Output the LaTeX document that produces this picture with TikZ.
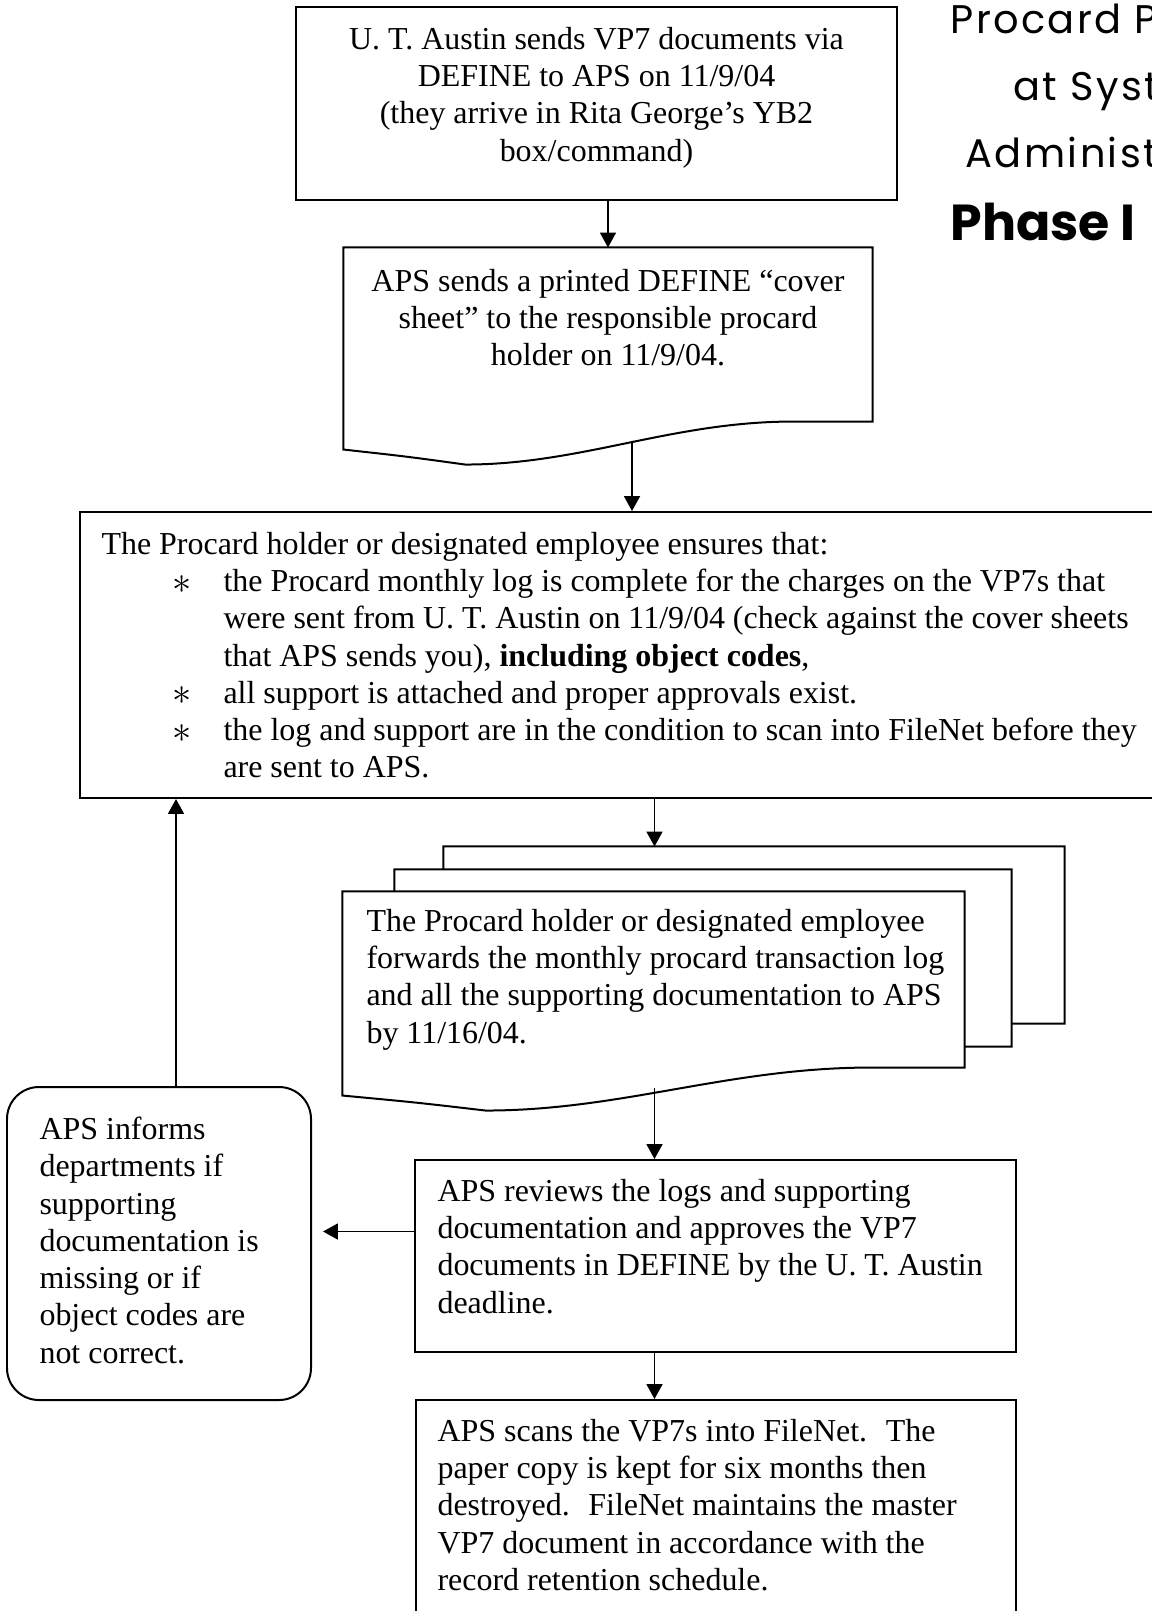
\documentclass[tikz,border=0pt]{standalone}
\usepackage{fontspec}
\setmainfont{Liberation Serif}
\newfontfamily\titlefont[LetterSpace=6]{Poppins}
\newfontfamily\phasefont{Poppins}
\usetikzlibrary{arrows.meta,calc,fit}

% outline of a document shape: flat top, wavy bottom
\newcommand{\docpath}[1]{(#1.south east) -- (#1.north east) -- (#1.north west)
    -- ($(#1.south west)+(0,28)$)
    .. controls ($(#1.south west)!0.12!(#1.south east)+(0,35)$) .. ($(#1.south west)!0.23!(#1.south east)+(0,43)$)
    .. controls ($(#1.south west)!0.45!(#1.south east)+(0,43)$) and ($(#1.south west)!0.62!(#1.south east)$) .. ($(#1.south west)!0.85!(#1.south east)$)
    -- cycle}
% bullet and hanging indent of the check list
\newcommand{\checkitem}{\hspace*{26.5pt}\makebox[19.3pt][l]{\raisebox{-0.6pt}{\Large$\ast$}}}
\newcommand{\checkcont}{\hspace*{45.8pt}}

\tikzset{
    procbox/.style={draw, line width=0.75pt, inner sep=0pt},
    docbox/.style={inner sep=0pt},
    roundbox/.style={draw, line width=0.75pt, rounded corners=12pt, inner sep=0pt},
    docline/.style={line width=0.75pt, fill=white},
    bodytext/.style={font=\fontsize{12pt}{14pt}\selectfont, inner sep=0pt},
    titletext/.style={font=\titlefont\fontsize{15pt}{18pt}\selectfont, inner sep=0pt, anchor=base west},
    flowarrow/.style={-{Triangle[length=5.6pt,width=6pt]}, line width=0.65pt}
}

\begin{document}
\begin{tikzpicture}[x=0.3755pt, y=-0.3755pt]
    \useasboundingbox (0,0) rectangle (1152,1611);
    \clip (0,0) rectangle (1152,1611);

    % title
    \node[titletext] (title1) at (950,33) {Procard Process};
    \node[titletext] (title2) at (1013,100) {at System};
    \node[titletext] (title3) at (965,167) {Administration};
    \node[titletext, font=\phasefont\bfseries\fontsize{19pt}{22pt}\selectfont] (title4) at (950,240) {Phase I};

    % boxes
    \node[procbox, fit={(296,7) (897,200)}] (austin) {};
    \node[docbox, fit={(344,248) (872,421)}] (cover) {};
    \draw[docline] \docpath{cover};
    \node[procbox, fit={(80,512) (1170,798)}] (checks) {};
    \node[docbox, fit={(444,847) (1064,1023)}] (stackback) {};
    \node[docbox, fit={(395,870) (1011,1046)}] (stackmid) {};
    \node[docbox, fit={(343,892) (964,1067)}] (stackfront) {};
    \draw[docline] \docpath{stackback};
    \draw[docline] \docpath{stackmid};
    \draw[docline] \docpath{stackfront};
    \node[procbox, fit={(415,1160) (1016,1352)}] (review) {};
    \node[procbox, fit={(416,1400) (1016,1700)}] (scan) {};
    \node[roundbox, fit={(7,1087) (311,1400)}] (informs) {};

    % texts
    \node[bodytext, align=center, anchor=north] (austintext) at (596.5,26.5) {U. T. Austin sends VP7 documents via\\
        DEFINE to APS on 11/9/04\\
        (they arrive in Rita George’s YB2\\
        box/command)};
    \node[bodytext, align=center, anchor=north] (covertext) at (608,268.5) {APS sends a printed DEFINE “cover\\
        sheet” to the responsible procard\\
        holder on 11/9/04.};
    \node[bodytext, align=left, anchor=north west] (checkstext) at (101,531.5) {The Procard holder or designated employee ensures that:\\
        \checkitem the Procard monthly log is complete for the charges on the VP7s that\\
        \checkcont were sent from U. T. Austin on 11/9/04 (check against the cover sheets\\
        \checkcont that APS sends you), \textbf{including object codes},\\
        \checkitem all support is attached and proper approvals exist.\\
        \checkitem the log and support are in the condition to scan into FileNet before they\\
        \checkcont are sent to APS.};
    \node[bodytext, align=left, anchor=north west] (stacktext) at (366,908.5) {The Procard holder or designated employee\\
        forwards the monthly procard transaction log\\
        and all the supporting documentation to APS\\
        by 11/16/04.};
    \node[bodytext, align=left, anchor=north west] (reviewtext) at (437,1178.5) {APS reviews the logs and supporting\\
        documentation and approves the VP7\\
        documents in DEFINE by the U. T. Austin\\
        deadline.};
    \node[bodytext, align=left, anchor=north west] (scantext) at (437,1418.5) {APS scans the VP7s into FileNet.~ The\\
        paper copy is kept for six months then\\
        destroyed.~ FileNet maintains the master\\
        VP7 document in accordance with the\\
        record retention schedule.};
    \node[bodytext, align=left, anchor=north west] (informstext) at (39,1116.5) {APS informs\\
        departments if\\
        supporting\\
        documentation is\\
        missing or if\\
        object codes are\\
        not correct.};

    % connectors
    \coordinate (coverout) at ($(cover.south)+(24,19)$);
    \coordinate (stackout) at ($(stackfront.south)+(1,20)$);
    \coordinate (backin) at ($(informs.east)+(11,-12)$);
    \coordinate (upfoot) at ($(informs.north)+(17,0)$);
    \draw[flowarrow] (cover.north |- austin.south) -- (cover.north);
    \draw[flowarrow] (coverout) -- (coverout |- checks.north);
    \draw[flowarrow] (stackout |- checks.south) -- (stackout |- stackback.north);
    \draw[flowarrow] (stackout) -- (stackout |- review.north);
    \draw[flowarrow] (stackout |- review.south) -- (stackout |- scan.north);
    \draw[flowarrow] (review.west |- backin) -- (backin);
    \draw[flowarrow] (upfoot) -- (upfoot |- checks.south);
\end{tikzpicture}
\end{document}
